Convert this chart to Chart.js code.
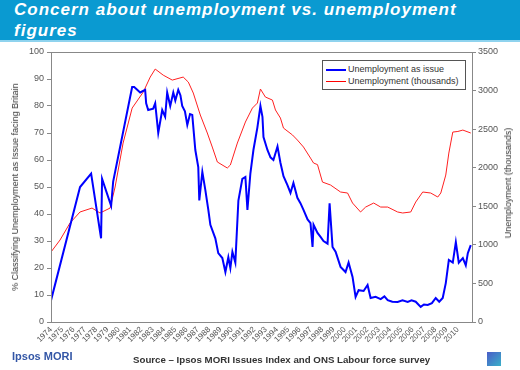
<!DOCTYPE html>
<html>
<head>
<meta charset="utf-8">
<script src="https://cdn.jsdelivr.net/npm/chart.js"></script>
<style>
  body { margin: 0; background: #fff; }
  #page { position: relative; width: 520px; height: 370px; overflow: hidden; font-family: "Liberation Sans", Arial, sans-serif; }
  #titlebar { position: absolute; left: 0; top: 0; width: 520px; height: 40px; background: #0a9ad1; border-bottom: 2px solid #8fd3ee; }
  #title { position: absolute; left: 14px; top: -1px; color: #fff; font-weight: bold; font-style: italic; font-size: 17px; line-height: 21px; letter-spacing: 1px; }
  #chartbox { position: absolute; left: 0; top: 0; width: 520px; height: 370px; }
  .ytitle { position: absolute; font-size: 9px; color: #333; white-space: nowrap; transform: translate(-50%, -50%) rotate(-90deg); }
  #legend { position: absolute; left: 322px; top: 60px; width: 142px; height: 28px; border: 1px solid #555; background: #fff; font-size: 9px; color: #333; }
  .lg { position: absolute; left: 3px; height: 12px; line-height: 12px; white-space: nowrap; }
  .sw { display: inline-block; width: 20px; vertical-align: middle; margin-right: 2px; }
  #ipsos { position: absolute; left: 12px; top: 350px; color: #3356a6; font-weight: bold; font-size: 11px; }
  #source { position: absolute; left: 133px; top: 354px; color: #333; font-weight: bold; font-size: 9.7px; }
  #logo { position: absolute; left: 487px; top: 352px; width: 14px; height: 14px; background: linear-gradient(135deg, #4a5cc8, #3ab0c8); }
</style>
</head>
<body>
<div id="page">
  <div id="titlebar"><div id="title">Concern about unemployment vs. unemployment<br>figures</div></div>
  <div id="chartbox"><canvas id="myChart" width="520" height="370"></canvas></div>
  <div class="ytitle" style="left:15px; top:187px;">% Classifying Unemployment as Issue facing Britain</div>
  <div class="ytitle" style="left:508px; top:183px;">Unemployment (thousands)</div>
  <div id="legend">
    <div class="lg" style="top:2px;"><span class="sw" style="border-top:2px solid #0000ff;"></span>Unemployment as issue</div>
    <div class="lg" style="top:14px;"><span class="sw" style="border-top:1px solid #ff0000;"></span>Unemployment (thousands)</div>
  </div>
  <div id="ipsos">Ipsos MORI</div>
  <div id="source">Source – Ipsos MORI Issues Index and ONS Labour force survey</div>
  <div id="logo"></div>
</div>
<script>
var yearLabels = ['1974','1975','1976','1977','1978','1979','1980','1981','1982','1983','1984','1985','1986','1987','1988','1989','1990','1991','1992','1993','1994','1995','1996','1997','1998','1999','2000','2001','2002','2003','2004','2005','2006','2007','2008','2009','2010'];

// % naming unemployment as an issue (left axis)
var issueYears = [1974.0, 1976.57, 1977.55, 1978.43, 1978.52, 1979.32, 1979.5, 1981.18, 1981.36, 1981.89, 1982.33, 1982.42, 1982.6, 1983.04, 1983.22, 1983.49, 1983.84, 1984.1, 1984.28, 1984.55, 1984.82, 1985.0, 1985.26, 1985.45, 1985.61, 1985.85, 1986.06, 1986.3, 1986.5, 1986.77, 1987.03, 1987.12, 1987.39, 1987.65, 1987.92, 1988.1, 1988.54, 1988.8, 1989.16, 1989.43, 1989.69, 1989.87, 1990.05, 1990.31, 1990.58, 1990.93, 1991.2, 1991.38, 1991.64, 1991.91, 1992.26, 1992.53, 1992.71, 1992.8, 1993.15, 1993.42, 1993.68, 1994.04, 1994.3, 1994.57, 1994.92, 1995.19, 1995.45, 1995.8, 1996.07, 1996.34, 1996.7, 1996.96, 1997.14, 1997.23, 1997.58, 1997.85, 1998.11, 1998.47, 1998.65, 1998.91, 1999.18, 1999.62, 2000.06, 2000.33, 2000.68, 2000.95, 2001.22, 2001.66, 2002.01, 2002.28, 2002.72, 2003.17, 2003.5, 2003.79, 2004.2, 2004.67, 2005.1, 2005.56, 2005.9, 2006.27, 2006.71, 2007.0, 2007.33, 2007.7, 2008.04, 2008.35, 2008.66, 2008.93, 2009.2, 2009.55, 2009.82, 2010.08, 2010.44, 2010.7, 2010.88, 2011.14];
var issueValues = [8, 50, 55, 31, 53, 43, 52, 87, 87, 85, 86, 81, 78.5, 79, 81, 70, 78.5, 76, 85, 80, 85, 82, 86, 84, 80, 78, 73, 77, 76.7, 63.7, 57.4, 45, 55.6, 49, 41.5, 36, 31, 25.5, 23.7, 18.5, 24, 20, 26, 22, 45, 53, 53.7, 41.5, 55, 63.7, 72, 80, 76, 68.5, 63.7, 61, 60, 65, 59, 54, 50.7, 47.8, 51.5, 46, 44, 41.5, 38, 36.6, 27.8, 36, 33, 31.5, 30, 29, 44, 27.8, 26, 20.4, 18.5, 22, 16.7, 9.3, 11.8, 11.5, 13.7, 8.9, 9.3, 8.5, 9.5, 8.1, 7.5, 7.4, 8, 7.4, 8, 7.5, 5.6, 6.5, 6.3, 7, 8.9, 7.5, 8.9, 14.4, 23, 22, 29.6, 22, 23.7, 21, 25.5, 28.5];

// unemployment in thousands (right axis)
var unempYears = [1974.0, 1974.8, 1975.68, 1976.57, 1977.63, 1978.34, 1979.23, 1979.67, 1980.38, 1981.18, 1982.16, 1982.78, 1983.22, 1983.93, 1984.73, 1985.7, 1986.15, 1986.59, 1987.21, 1987.83, 1988.27, 1988.72, 1989.6, 1989.87, 1990.49, 1991.2, 1991.82, 1992.26, 1992.53, 1992.97, 1993.59, 1993.86, 1994.3, 1994.57, 1995.37, 1995.8, 1996.34, 1996.96, 1997.23, 1997.58, 1998.02, 1998.73, 1999.62, 2000.24, 2000.68, 2001.39, 2001.84, 2002.55, 2003.17, 2003.79, 2004.67, 2005.12, 2005.83, 2006.27, 2006.89, 2007.6, 2008.22, 2008.49, 2008.93, 2009.2, 2009.55, 2010.0, 2010.44, 2011.14];
var unempValues = [907, 1063, 1283, 1426, 1477, 1413, 1477, 1750, 2320, 2773, 2980, 3175, 3279, 3200, 3136, 3175, 3110, 2968, 2683, 2450, 2268, 2074, 1996, 2035, 2320, 2592, 2773, 2838, 3020, 2916, 2877, 2748, 2644, 2514, 2424, 2359, 2268, 2125, 2061, 2040, 1814, 1776, 1685, 1672, 1542, 1426, 1490, 1542, 1490, 1490, 1426, 1413, 1426, 1555, 1685, 1672, 1620, 1672, 1905, 2190, 2462, 2470, 2488, 2450];

function pairs(xs, ys) {
  var out = [];
  for (var i = 0; i < xs.length; i++) out.push({x: xs[i], y: ys[i]});
  return out;
}

// box round the plot area
var frame = {
  id: 'frame',
  afterDatasetsDraw: function(chart) {
    var a = chart.chartArea, c = chart.ctx;
    c.save();
    c.strokeStyle = '#888';
    c.lineWidth = 1;
    c.strokeRect(Math.round(a.left) + 0.5, Math.round(a.top) + 0.5, Math.round(a.right - a.left), Math.round(a.bottom - a.top));
    c.restore();
  }
};

var tickFont = {family: '"Liberation Sans", Arial, sans-serif', size: 9};

var ctx = document.getElementById('myChart').getContext('2d');
var chart = new Chart(ctx, {
  type: 'line',
  data: {
    datasets: [{
      label: 'Unemployment as issue',
      data: pairs(issueYears, issueValues),
      borderColor: '#0000ff',
      borderWidth: 2,
      pointRadius: 0,
      tension: 0,
      yAxisID: 'y'
    }, {
      label: 'Unemployment (thousands)',
      data: pairs(unempYears, unempValues),
      borderColor: '#ff2020',
      borderWidth: 1,
      pointRadius: 0,
      tension: 0,
      yAxisID: 'y1'
    }]
  },
  options: {
    responsive: false,
    animation: false,
    layout: {padding: {top: 52, left: 0, right: 0, bottom: 0}},
    plugins: {legend: {display: false}, tooltip: {enabled: false}},
    scales: {
      x: {
        type: 'linear',
        min: 1974,
        max: 2011.25,
        afterBuildTicks: function(s) { s.ticks = yearLabels.map(function(y) { return {value: +y}; }); },
        afterFit: function(s) { s.height = 48; },
        grid: {display: false, drawTicks: false},
        border: {color: '#888'},
        ticks: {
          autoSkip: false, minRotation: 45, maxRotation: 45, padding: 3,
          color: '#555', font: {family: '"Liberation Sans", Arial, sans-serif', size: 8},
          callback: function(v) { return String(v); }
        }
      },
      y: {
        position: 'left',
        min: 0, max: 100,
        afterFit: function(s) { s.width = 51; },
        grid: {drawOnChartArea: false, tickLength: 4, color: '#888'},
        border: {color: '#888'},
        ticks: {stepSize: 10, padding: 3, color: '#555', font: tickFont}
      },
      y1: {
        position: 'right',
        min: 0, max: 3500,
        afterFit: function(s) { s.width = 48; },
        grid: {drawOnChartArea: false, tickLength: 4, color: '#888'},
        border: {color: '#888'},
        ticks: {stepSize: 500, padding: 2, color: '#555', font: tickFont, callback: function(v) { return String(v); }}
      }
    }
  },
  plugins: [frame]
});
</script>
</body>
</html>
